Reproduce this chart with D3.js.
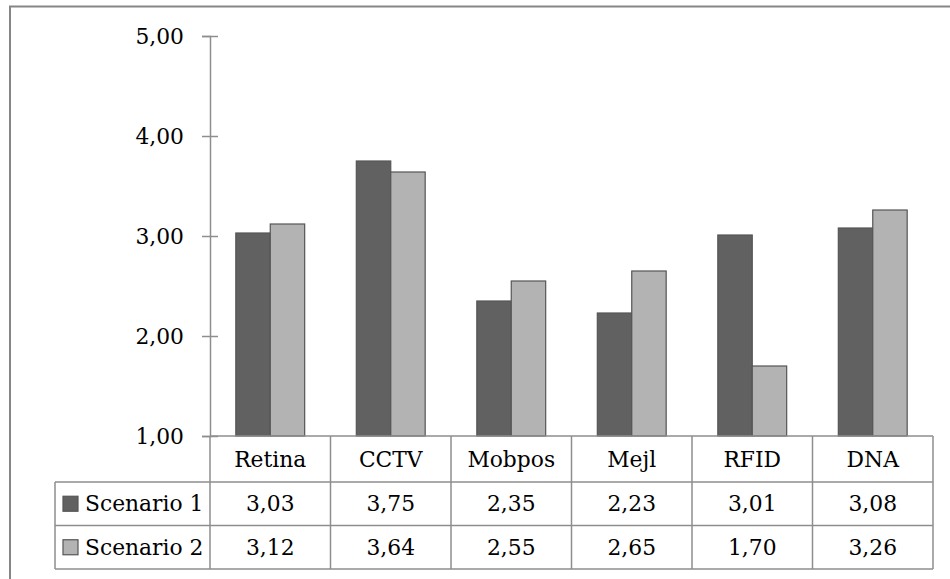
<!DOCTYPE html>
<html>
<head>
<meta charset="utf-8">
<script src="https://cdn.jsdelivr.net/npm/d3@7"></script>
<style>
  html, body { margin: 0; padding: 0; background: #fff; }
  svg { display: block; }
  text { font-family: "DejaVu Serif", "Liberation Serif", serif; fill: #000; }
</style>
</head>
<body>
<svg id="chart" width="950" height="579"></svg>
<script>
// Categories and the two scenario series
const categories = ["Retina", "CCTV", "Mobpos", "Mejl", "RFID", "DNA"];
const seriesNames = ["Scenario 1", "Scenario 2"];
const scenario1 = [3.03, 3.75, 2.35, 2.23, 3.01, 3.08];
const scenario2 = [3.12, 3.64, 2.55, 2.65, 1.70, 3.26];
const yTickValues = [1, 2, 3, 4, 5];

const seriesValues = [scenario1, scenario2];
const seriesFill = ["#616161", "#b3b3b3"];

const locale = d3.formatLocale({ decimal: ",", thousands: ".", grouping: [3], currency: ["", ""] });
const fmt = locale.format(".2f");

const svg = d3.select("#chart");
const W = 950, H = 579;
const fontSize = 21.8;

// Plot area
const plot = { left: 210, right: 933, top: 36, bottom: 436 };
const rowH = { header: 46, row: 43.5 };
const legendLeft = 55;
const lineColor = "#8e8e8e";

const x = d3.scaleBand().domain(categories).range([plot.left, plot.right]).padding(0);
const xInner = d3.scaleBand().domain(seriesNames).range([0, x.bandwidth()])
  .paddingInner(0).paddingOuter(0.75);
const y = d3.scaleLinear().domain([1, 5]).range([plot.bottom, plot.top]);

// Outer chart border
svg.append("rect")
  .attr("x", 10).attr("y", 6.5)
  .attr("width", W + 10).attr("height", H + 10)
  .attr("fill", "none").attr("stroke", "#868686").attr("stroke-width", 2);

// Bars
const groups = svg.append("g").selectAll("g")
  .data(seriesNames)
  .join("g")
  .attr("fill", (d, i) => seriesFill[i]);

groups.selectAll("rect")
  .data((s, si) => categories.map((c, ci) => ({ c, s, v: seriesValues[si][ci] })))
  .join("rect")
  .attr("x", d => x(d.c) + xInner(d.s))
  .attr("y", d => y(d.v))
  .attr("width", xInner.bandwidth())
  .attr("height", d => y(1) - y(d.v))
  .attr("stroke", "#555")
  .attr("stroke-width", 1.2);

// Y axis with crossing ticks
const yAxis = svg.append("g")
  .attr("transform", `translate(${plot.left},0)`)
  .call(d3.axisLeft(y).tickValues(yTickValues).tickFormat(fmt).tickSize(8).tickPadding(18));
yAxis.select(".domain").attr("stroke", lineColor).attr("stroke-width", 1.5);
yAxis.selectAll(".tick line").attr("x1", 8).attr("stroke", lineColor).attr("stroke-width", 1.5);
yAxis.selectAll(".tick text")
  .attr("font-size", fontSize)
  .attr("font-family", "DejaVu Serif, serif")
  .attr("dy", "0.35em");

// Data table below the plot
const table = svg.append("g");
const tHeaderTop = plot.bottom;
const tRow1Top = tHeaderTop + rowH.header;
const tRow2Top = tRow1Top + rowH.row;
const tBottom = tRow2Top + rowH.row;

const hline = (x1, x2, yy) => table.append("line")
  .attr("x1", x1).attr("x2", x2).attr("y1", yy).attr("y2", yy)
  .attr("stroke", lineColor).attr("stroke-width", 1.5);
const vline = (xx, y1, y2) => table.append("line")
  .attr("x1", xx).attr("x2", xx).attr("y1", y1).attr("y2", y2)
  .attr("stroke", lineColor).attr("stroke-width", 1.5);

hline(plot.left, plot.right, tHeaderTop);
hline(legendLeft, plot.right, tRow1Top);
hline(legendLeft, plot.right, tRow2Top);
hline(legendLeft, plot.right, tBottom);
vline(legendLeft, tRow1Top, tBottom);
vline(plot.left, tHeaderTop, tBottom);
categories.forEach(c => vline(x(c) + x.bandwidth(), tHeaderTop, tBottom));

// Category header row
table.selectAll("text.cat")
  .data(categories)
  .join("text")
  .attr("class", "cat")
  .attr("x", c => x(c) + x.bandwidth() / 2)
  .attr("y", tHeaderTop + rowH.header / 2)
  .attr("dy", "0.35em")
  .attr("text-anchor", "middle")
  .attr("font-size", fontSize)
  .text(c => c);

// Value rows with legend keys
seriesNames.forEach((s, si) => {
  const top = si === 0 ? tRow1Top : tRow2Top;
  const cy = top + rowH.row / 2;
  table.append("rect")
    .attr("x", 63).attr("y", cy - 7.5)
    .attr("width", 15).attr("height", 15)
    .attr("fill", seriesFill[si]).attr("stroke", "#555").attr("stroke-width", 1.2);
  table.append("text")
    .attr("x", 85).attr("y", cy).attr("dy", "0.35em")
    .attr("font-size", fontSize)
    .text(s);
  table.selectAll(null)
    .data(seriesValues[si])
    .join("text")
    .attr("x", (v, i) => x(categories[i]) + x.bandwidth() / 2)
    .attr("y", cy).attr("dy", "0.35em")
    .attr("text-anchor", "middle")
    .attr("font-size", fontSize)
    .text(v => fmt(v));
});
</script>
</body>
</html>
